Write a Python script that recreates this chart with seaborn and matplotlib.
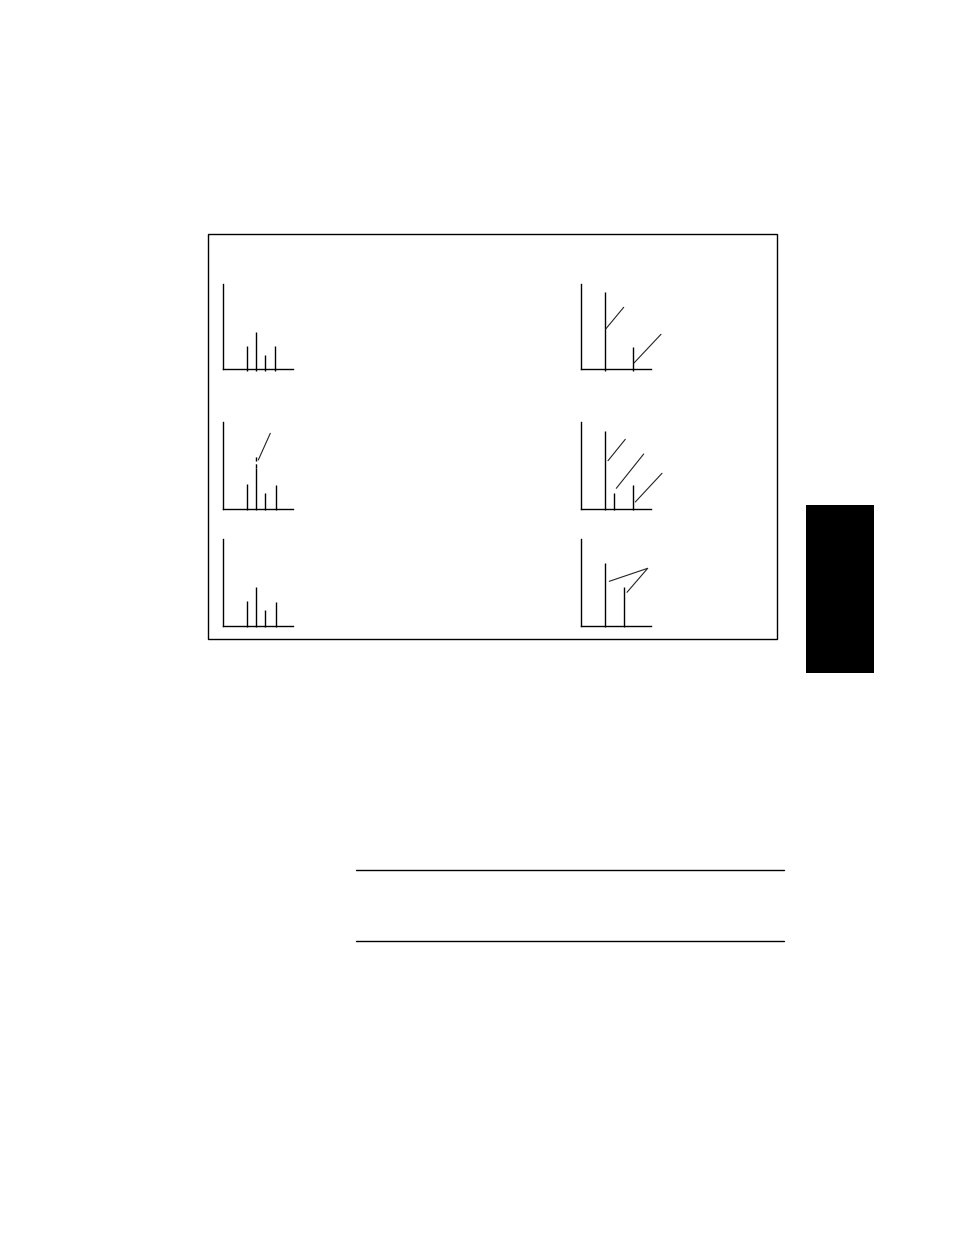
import matplotlib
matplotlib.use("Agg")
import matplotlib.pyplot as plt
import seaborn as sns
import pandas as pd
from matplotlib.patches import Rectangle
from matplotlib.lines import Line2D

sns.set_style("white")
plt.rcParams['font.family'] = ['DejaVu Sans']

# ---- data: peak positions / intensities for each of the six mini spectra ----
p1_pos = [24, 33, 42, 52]
p1_int = [23.3, 37.3, 14.3, 23.3]

p2_pos = [23.7, 51.4]
p2_int = [77, 22]
p2_lead1_x = [24.4, 42.4]
p2_lead1_y = [40.3, 62]
p2_lead2_x = [52.7, 79.7]
p2_lead2_y = [6.3, 35]

p3_pos = [24, 33, 42, 53]
p3_int = [24.7, 40.4, 15.7, 23.7]
p3_dash_top = 52.7
p3_lead_x = [35, 47]
p3_lead_y = [48.7, 75.4]

p4_pos = [23.7, 33, 51.4]
p4_int = [77.7, 15.7, 23.7]
p4_lead1_x = [26.7, 44]
p4_lead1_y = [48, 69.4]
p4_lead2_x = [35, 62.4]
p4_lead2_y = [20.4, 54.7]
p4_lead3_x = [54, 80.7]
p4_lead3_y = [6.7, 35.4]

p5_pos = [24, 33, 42, 53]
p5_int = [25, 38.7, 15.7, 24]

p6_pos = [24, 42.4]
p6_int = [62.7, 38.7]
p6_lead_x = [28, 66.4, 45.7]
p6_lead_y = [44.4, 57.4, 33.4]

W, H = 954, 1235
fig = plt.figure(figsize=(W / 100, H / 100), dpi=100)
fig.patch.set_facecolor("white")


def make_ax(left, top, right, bottom):
    ax = fig.add_axes([left / W, 1 - bottom / H, (right - left) / W, (bottom - top) / H])
    ax.set_xlim(0, right - left)
    ax.set_ylim(0, bottom - top)
    for s in ["top", "right"]:
        ax.spines[s].set_visible(False)
    for s in ["left", "bottom"]:
        ax.spines[s].set_color("black")
        ax.spines[s].set_linewidth(1.0)
    ax.set_xticks([])
    ax.set_yticks([])
    ax.patch.set_alpha(0)
    return ax


def sticks(ax, pos, inten):
    ax.vlines(pos, -1.3, inten, color="black", linewidth=1.0, clip_on=False)


def leader(ax, xs, ys):
    df = pd.DataFrame({"x": xs, "y": ys})
    sns.lineplot(data=df, x="x", y="y", ax=ax, sort=False, estimator=None,
                 color="#222222", linewidth=0.8)
    for ln in ax.lines:
        ln.set_clip_on(False)
    ax.set_xlabel("")
    ax.set_ylabel("")


# panel 1
ax1 = make_ax(223.3, 284, 293.3, 369.3)
sticks(ax1, p1_pos, p1_int)

# panel 2
ax2 = make_ax(581.3, 284, 650.7, 369.3)
sticks(ax2, p2_pos, p2_int)
leader(ax2, p2_lead1_x, p2_lead1_y)
leader(ax2, p2_lead2_x, p2_lead2_y)

# panel 3
ax3 = make_ax(223.3, 422.3, 293.3, 508.7)
sticks(ax3, p3_pos, p3_int)
ax3.vlines([p3_pos[1]], p3_int[1], p3_dash_top, color="black", linewidth=1.0,
           linestyles=(0, (3, 2)))
leader(ax3, p3_lead_x, p3_lead_y)

# panel 4
ax4 = make_ax(581.3, 422.3, 650.7, 508.7)
sticks(ax4, p4_pos, p4_int)
leader(ax4, p4_lead1_x, p4_lead1_y)
leader(ax4, p4_lead2_x, p4_lead2_y)
leader(ax4, p4_lead3_x, p4_lead3_y)

# panel 5
ax5 = make_ax(223.3, 539, 293.3, 625.7)
sticks(ax5, p5_pos, p5_int)

# panel 6
ax6 = make_ax(581.3, 539, 650.7, 625.7)
sticks(ax6, p6_pos, p6_int)
leader(ax6, p6_lead_x, p6_lead_y)

# page decorations: frame, side tab, rules
fig.patches.append(Rectangle((208.5 / W, 1 - 638.8 / H), (777 - 208.5) / W, (638.8 - 233.5) / H,
                             transform=fig.transFigure, fill=False, edgecolor="black",
                             linewidth=1.0))
fig.patches.append(Rectangle((806 / W, 1 - 673.3 / H), (874 - 806) / W, (673.3 - 505) / H,
                             transform=fig.transFigure, facecolor="black", edgecolor="none"))
for yy in [870.3, 941.3]:
    fig.lines.append(Line2D([356 / W, 784.3 / W], [1 - yy / H, 1 - yy / H],
                            transform=fig.transFigure, color="black", linewidth=1.0))

fig.savefig("out.png", dpi=100, facecolor="white")
